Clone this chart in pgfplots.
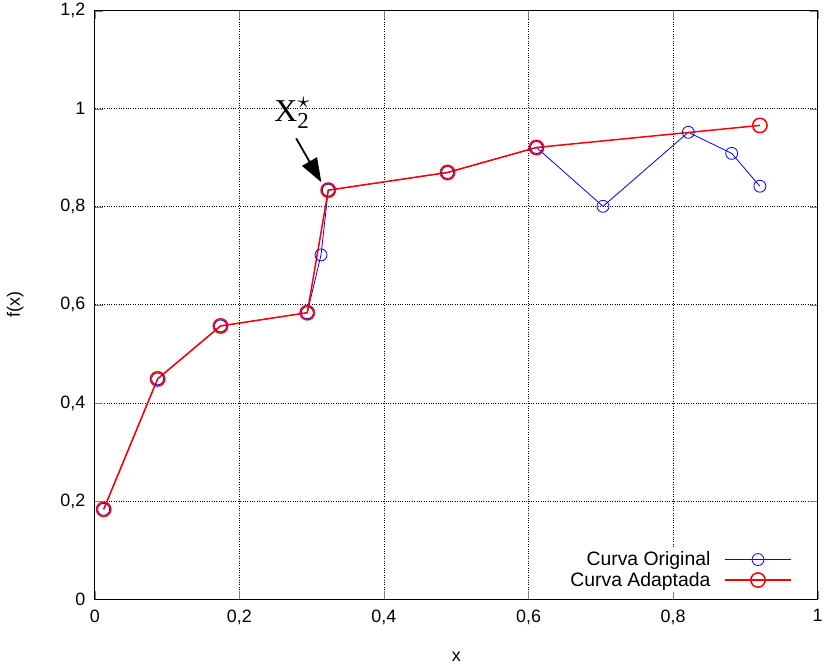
\documentclass[border=0pt]{standalone}
\usepackage{pgfplots}
\pgfplotsset{compat=1.18}
\usepackage{fontspec}
\setmainfont{Liberation Sans}
\newfontfamily\seriffont{Liberation Serif}
\usetikzlibrary{arrows.meta}
\begin{document}
\begin{tikzpicture}
\begin{axis}[
  scale only axis, width=725bp, height=590bp, clip=false,
  xmin=0, xmax=1, ymin=0, ymax=1.2,
  xtick={0,0.2,0.4,0.6,0.8,1},
  ytick={0,0.2,0.4,0.6,0.8,1,1.2},
  /pgf/number format/use comma,
  /pgf/number format/assume math mode=true,
  tick label style={font=\fontsize{18}{20}\selectfont},
  yticklabel style={xshift=-6bp},
  xticklabel style={yshift=-7bp},
  label style={font=\fontsize{18}{20}\selectfont},
  grid=major, major grid style={black, dotted, line width=0.8pt},
  tick align=inside, tick pos=both, major tick length=8bp,
  axis line style={black, line width=0.8pt},
  xlabel={x}, ylabel={f(x)},
  xlabel style={at={(axis description cs:0.5,-0.098)}, anchor=center},
  ylabel style={at={(axis description cs:-0.110,0.5)}, anchor=center},
  legend style={at={(rel axis cs:0.967,0.012)}, anchor=south east, draw=none, fill=white,
    font=\fontsize{19.5}{22}\selectfont, legend cell align=right, row sep=1bp, inner sep=2bp,
    /tikz/every odd column/.append style={column sep=12bp}},
  legend plot pos=right,
  legend image code/.code={\draw[mark repeat=2,mark phase=2] plot coordinates {(0bp,0bp)(33bp,0bp)(66bp,0bp)};},
]
\addplot[blue, line width=0.8pt, mark=o, mark size=6bp, mark options={line width=0.8pt}] coordinates {
(0.0124,0.183) (0.087,0.449) (0.174,0.557) (0.294,0.584) (0.313,0.702) (0.323,0.834)
(0.488,0.870) (0.611,0.921) (0.703,0.801) (0.821,0.952) (0.881,0.909) (0.920,0.842)
};
\addlegendentry{Curva Original}
\addplot[red, line width=1.5pt, mark=o, mark size=7.2bp, mark options={line width=1.5pt}] coordinates {
(0.0124,0.183) (0.087,0.449) (0.174,0.557) (0.294,0.584) (0.323,0.834)
(0.488,0.870) (0.611,0.921) (0.920,0.966)
};
\addlegendentry{Curva Adaptada}
\node[font=\seriffont\fontsize{32}{32}\selectfont, anchor=base west, inner sep=0pt] at (axis cs:0.2483,0.973)
  {X\rlap{\raisebox{14bp}{\fontsize{24}{24}\selectfont$\star$}}\raisebox{-7bp}{\fontsize{23}{23}\selectfont 2}};
\draw[-{Triangle[length=24bp,width=17bp]}, line width=1.8pt] (axis cs:0.2786,0.9396) -- (axis cs:0.3135,0.850);
\path ([xshift=-95bp]rel axis cs:0,0.5);
\end{axis}
\end{tikzpicture}
\end{document}
